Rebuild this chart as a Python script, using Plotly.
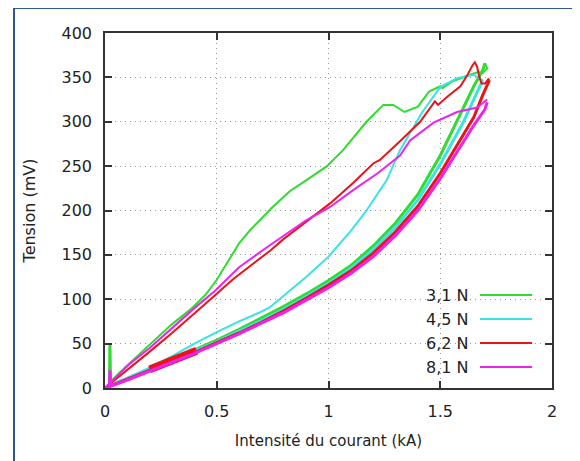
import plotly.graph_objects as go

# ---------------- data (kA, mV) ----------------
labels = ["3,1 N", "4,5 N", "6,2 N", "8,1 N"]
colors = ["#2fdc2f", "#36e4e4", "#e8141a", "#ee22ee"]

# rising branch (current increasing)
x_rise_31 = [0, 0.02, 0.022, 0.025, 0.1, 0.2, 0.3, 0.4, 0.5, 0.6, 0.7, 0.8, 0.9, 1.0, 1.1, 1.2, 1.3, 1.4, 1.5, 1.55, 1.6, 1.65, 1.69, 1.70]
y_rise_31 = [0, 0, 50, 3, 10, 21, 32, 43, 54, 66, 79, 92, 106, 121, 138, 160, 186, 218, 262, 288, 315, 340, 358, 366]
# returning branch (current decreasing)
x_ret_31 = [1.70, 1.71, 1.69, 1.67, 1.633, 1.60, 1.55, 1.51, 1.50, 1.45, 1.40, 1.34, 1.29, 1.245, 1.23, 1.17, 1.065, 0.993, 0.90, 0.828, 0.75, 0.70, 0.65, 0.60, 0.55, 0.50, 0.45, 0.38, 0.30, 0.23, 0.15, 0.08, 0.04, 0]
y_ret_31 = [366, 360, 355, 356, 353, 350, 345, 338, 340, 334, 317, 311, 319, 319, 315, 300, 268, 250, 234, 222, 204, 191, 178, 163, 143, 122, 105, 88, 72, 56, 37, 21, 11, 0]

x_rise_45 = [0, 0.05, 0.1, 0.2, 0.3, 0.4, 0.5, 0.6, 0.7, 0.8, 0.9, 1.0, 1.1, 1.2, 1.3, 1.4, 1.5, 1.6, 1.65, 1.69]
y_rise_45 = [0, 6, 11, 22, 32, 42, 52, 64, 76, 89, 103, 118, 135, 156, 181, 212, 252, 298, 325, 347]
x_ret_45 = [1.69, 1.65, 1.575, 1.50, 1.42, 1.32, 1.26, 1.17, 1.10, 1.0, 0.9, 0.8, 0.738, 0.7, 0.6, 0.5, 0.4, 0.3, 0.2, 0.1, 0]
y_ret_45 = [347, 353, 349, 339, 311, 268, 234, 200, 177, 148, 125, 104, 91, 86, 75, 63, 50, 36, 23, 11, 0]

x_rise_62 = [0, 0.1, 0.2, 0.3, 0.4, 0.5, 0.6, 0.7, 0.8, 0.9, 1.0, 1.1, 1.2, 1.3, 1.4, 1.5, 1.6, 1.65, 1.69, 1.72]
y_rise_62 = [0, 10, 20, 30, 40, 51, 62, 74, 87, 101, 116, 132, 152, 176, 205, 242, 283, 305, 330, 347]
x_ret_62 = [1.72, 1.715, 1.70, 1.685, 1.675, 1.665, 1.655, 1.645, 1.62, 1.59, 1.53, 1.49, 1.476, 1.41, 1.32, 1.23, 1.20, 1.11, 1.007, 0.93, 0.86, 0.80, 0.74, 0.65, 0.57, 0.49, 0.40, 0.30, 0.20, 0.12, 0.05, 0]
y_ret_62 = [347, 348, 343, 343, 350, 362, 367, 364, 352, 340, 328, 319, 323, 300, 278, 257, 253, 231, 208, 193, 180, 168, 155, 138, 122, 104, 84, 62, 41, 25, 10, 0]
# noisy stretch on the 6,2 N rising branch
x_noise_62 = [0.2, 0.25, 0.3, 0.35, 0.41]
y_noise_62 = [21, 26, 31, 36, 42]

x_rise_81 = [0, 0.02, 0.022, 0.025, 0.1, 0.2, 0.3, 0.4, 0.5, 0.6, 0.7, 0.8, 0.9, 1.0, 1.1, 1.2, 1.3, 1.4, 1.5, 1.6, 1.65, 1.7, 1.71]
y_rise_81 = [0, 0, 20, 2, 9, 19, 29, 39, 50, 61, 73, 85, 99, 113, 129, 148, 172, 200, 236, 276, 296, 314, 322]
x_ret_81 = [1.71, 1.665, 1.575, 1.47, 1.365, 1.32, 1.275, 1.22, 1.11, 1.007, 0.90, 0.80, 0.71, 0.60, 0.49, 0.40, 0.30, 0.20, 0.11, 0.05, 0]
y_ret_81 = [325, 316, 311, 299, 279, 262, 253, 242, 223, 204, 189, 172, 156, 136, 109, 90, 67, 45, 27, 12, 0]

x_ticks = [0, 0.5, 1, 1.5, 2]
x_tick_text = ["0", "0.5", "1", "1.5", "2"]
y_ticks = [0, 50, 100, 150, 200, 250, 300, 350, 400]

series = [
    (x_rise_31, y_rise_31, x_ret_31, y_ret_31),
    (x_rise_45, y_rise_45, x_ret_45, y_ret_45),
    (x_rise_62, y_rise_62, x_ret_62, y_ret_62),
    (x_rise_81, y_rise_81, x_ret_81, y_ret_81),
]

FONT = "DejaVu Sans"
fig = go.Figure()
for i, (xr, yr, xd, yd) in enumerate(series):
    fig.add_trace(go.Scatter(x=xr, y=yr, mode="lines", showlegend=False,
                             line=dict(color=colors[i], width=3), hoverinfo="skip"))
    fig.add_trace(go.Scatter(x=xd, y=yd, mode="lines", showlegend=False,
                             line=dict(color=colors[i], width=2), hoverinfo="skip"))
    if i == 2:
        fig.add_trace(go.Scatter(x=x_noise_62, y=y_noise_62, mode="lines", showlegend=False,
                                 line=dict(color=colors[2], width=8), hoverinfo="skip"))

# the page body adds an 8px offset; positions below are page pixels
OFF = 8
FW, FH = 580 - OFF, 461 - OFF
L, R, T, B = 105, 552, 33, 388
W, H = R - L, B - T
def px(xp):
    return (xp - L) / W
def py(yp):
    return (B - yp) / H

shapes = []
# outer blue frame
shapes.append(dict(type="rect", xref="paper", yref="paper",
                   x0=px(14), x1=px(600), y0=py(480), y1=py(8),
                   line=dict(color="#2f5597", width=2), fillcolor="rgba(0,0,0,0)", layer="above"))
# legend background (hides grid)
shapes.append(dict(type="rect", xref="paper", yref="paper",
                   x0=px(410), x1=px(547), y0=py(381), y1=py(283),
                   line=dict(width=0), fillcolor="white", layer="between"))
annotations = []
rows = [295, 319, 343, 367]
for i, lab in enumerate(labels):
    annotations.append(dict(xref="paper", yref="paper", x=px(471), y=py(rows[i]),
                            text=lab, showarrow=False, xanchor="right", yanchor="middle",
                            font=dict(family=FONT, size=16, color="#222")))
    shapes.append(dict(type="line", xref="paper", yref="paper",
                       x0=px(480), x1=px(532), y0=py(rows[i]), y1=py(rows[i]),
                       line=dict(color=colors[i], width=2), layer="above"))

axis_common = dict(showline=True, linecolor="#333", linewidth=1.5, mirror="ticks",
                   ticks="inside", ticklen=7, tickwidth=1.5, tickcolor="#333",
                   showgrid=True, gridcolor="#999999", griddash="1px,4px", gridwidth=1,
                   zeroline=False, tickfont=dict(family=FONT, size=16, color="#222"))

fig.update_layout(
    width=FW, height=FH,
    margin=dict(l=L - OFF, r=580 - R, t=T - OFF, b=461 - B),
    paper_bgcolor="white", plot_bgcolor="white",
    xaxis=dict(range=[0, 2], tickvals=x_ticks, ticktext=x_tick_text,
               ticklabelstandoff=8,
               title=dict(text="Intensité du courant (kA)", standoff=16,
                          font=dict(family=FONT, size=15, color="#222")),
               **axis_common),
    yaxis=dict(range=[0, 400], tickvals=y_ticks, ticklabelstandoff=8,
               title=dict(text="Tension (mV)", standoff=22,
                          font=dict(family=FONT, size=16, color="#222")),
               **axis_common),
    shapes=shapes, annotations=annotations,
)
fig.write_html("out.html")
